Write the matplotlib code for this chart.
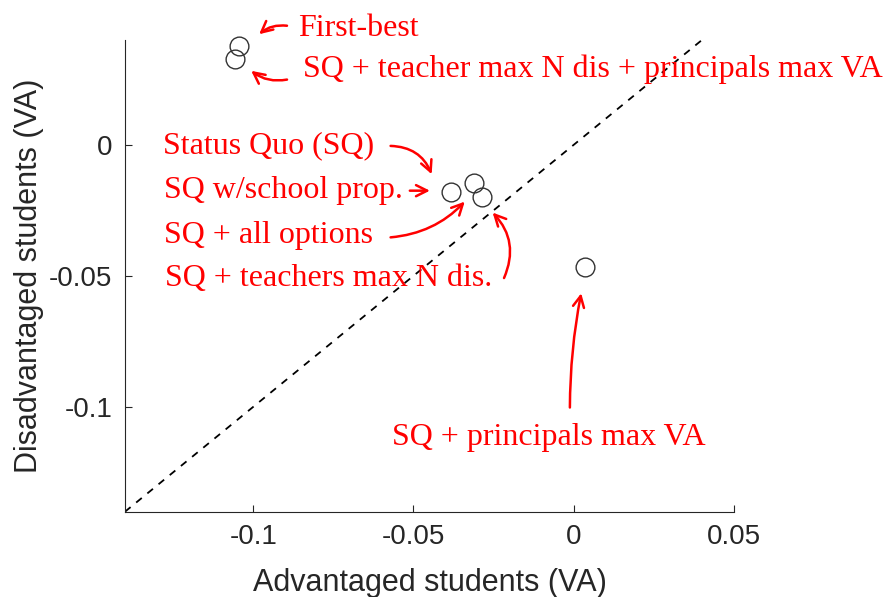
import matplotlib.pyplot as plt
import matplotlib as mpl

mpl.rcParams["axes.unicode_minus"] = False

# data
adv_va = [-0.1045, -0.1057, -0.0384, -0.0312, -0.0285, 0.0034]
dis_va = [0.0377, 0.0326, -0.0179, -0.0147, -0.0198, -0.0467]

labels = [
    "First-best",
    "SQ + teacher max N dis + principals max VA",
    "Status Quo (SQ)",
    "SQ w/school prop.",
    "SQ + all options",
    "SQ + teachers max N dis.",
    "SQ + principals max VA",
]
# label anchor (left, centre), arrow tail, arrow head, curvature
label_xy = [(-0.0861, 0.0445), (-0.0845, 0.0289), (-0.1282, -0.0004),
            (-0.1278, -0.0175), (-0.1278, -0.0346), (-0.1275, -0.0510),
            (-0.0568, -0.1115)]
arrow_tail = [(-0.0886, 0.0453), (-0.0886, 0.0251), (-0.0580, -0.0004),
              (-0.0520, -0.0175), (-0.0580, -0.0354), (-0.0221, -0.0518),
              (-0.0012, -0.1013)]
arrow_head = [(-0.0988, 0.0415), (-0.1013, 0.0289), (-0.0440, -0.0122),
              (-0.0440, -0.0175), (-0.0334, -0.0209), (-0.0259, -0.0251),
              (0.0025, -0.0556)]
arrow_rad = [0.25, -0.25, -0.35, 0.0, 0.2, 0.35, -0.05]

lims = [-0.14, 0.04]
XLIM = (-0.14, 0.05)
YLIM = (-0.14, 0.04)

TXT = "#262626"
RED = "#FF0000"
SERIF = ["Liberation Serif", "DejaVu Serif"]
SANS = ["Liberation Sans", "DejaVu Sans"]

fig = plt.figure(figsize=(8.84, 5.97), dpi=100)
ax = fig.add_axes([0.1414, 0.1429, 0.6889, 0.7901])

ax.plot(lims, lims, "--", color="black", lw=1.3, dashes=(4, 4))
ax.plot(adv_va, dis_va, "o", ms=13.5, mfc="none", mec="#333333", mew=1.0,
        clip_on=False)

for lab, xy, tail, head, rad in zip(labels, label_xy, arrow_tail, arrow_head, arrow_rad):
    ax.text(xy[0], xy[1], lab, ha="left", va="center", color=RED,
            fontsize=23, family=SERIF)
    ax.annotate("", xy=head, xytext=tail,
                arrowprops=dict(arrowstyle="->", color=RED, lw=1.8,
                                mutation_scale=20,
                                connectionstyle=f"arc3,rad={rad}"),
                annotation_clip=False)

ax.set_xlim(*XLIM)
ax.set_ylim(*YLIM)
ax.set_xticks([-0.1, -0.05, 0, 0.05])
ax.set_xticklabels(["-0.1", "-0.05", "0", "0.05"])
ax.set_yticks([-0.1, -0.05, 0])
ax.set_yticklabels(["-0.1", "-0.05", "0"])
ax.tick_params(direction="in", length=5, width=0.8, colors=TXT,
               labelsize=20, pad=9)
for t in ax.get_xticklabels() + ax.get_yticklabels():
    t.set_family(SANS)
for s in ("top", "right"):
    ax.spines[s].set_visible(False)
for s in ("left", "bottom"):
    ax.spines[s].set_color(TXT)
    ax.spines[s].set_linewidth(0.8)

ax.set_xlabel("Advantaged students (VA)", fontsize=22, color=TXT, family=SANS, labelpad=13)
ax.set_ylabel("Disadvantaged students (VA)", fontsize=22, color=TXT, family=SANS, labelpad=4)

fig.savefig("out.png", dpi=100, facecolor="white")
